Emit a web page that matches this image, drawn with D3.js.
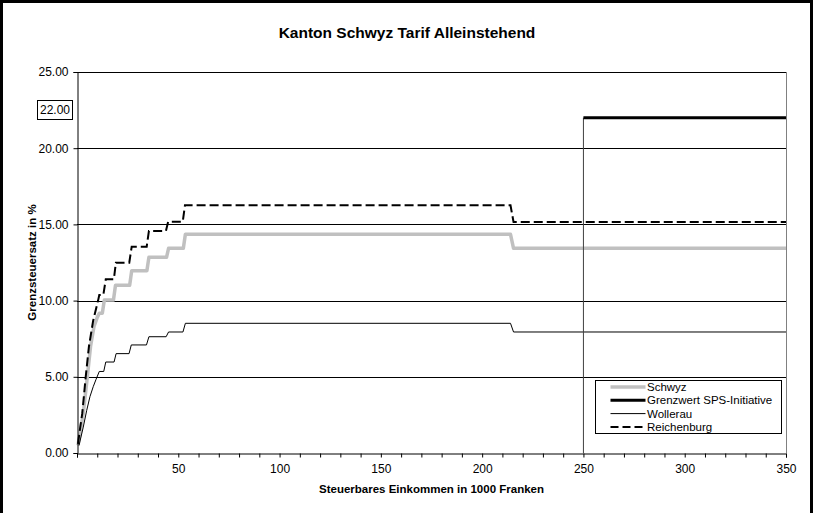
<!DOCTYPE html>
<html>
<head>
<meta charset="utf-8">
<script src="https://cdn.jsdelivr.net/npm/d3@7"></script>
<style>
  html, body { margin: 0; padding: 0; background: #fff; }
  svg { display: block; font-family: "Liberation Sans", Arial, sans-serif; }
</style>
</head>
<body>
<svg id="chart" width="813" height="513"></svg>
<script>
// Marginal tax rate (%) by taxable income (thousand CHF), single taxpayers
const schwyz = [
  [0.5, 0.5], [1.5, 1.3], [3.1, 2.6], [5.1, 5.0], [6.7, 7.0], [8.4, 8.3], [10, 8.9],
  [11, 9.17], [12.5, 9.17], [13.5, 10.04], [18, 10.04], [19, 11.0], [26, 11.0],
  [27, 11.96], [34.5, 11.96], [35.5, 12.84], [44.2, 12.84], [45.2, 13.43], [52.5, 13.43],
  [53.5, 14.35], [214, 14.35], [215.5, 13.43], [350, 13.43]
];
const wollerau = [
  [1.0, 0.5], [3.1, 1.7], [4.8, 2.8], [6.4, 3.7], [8.0, 4.35], [9.4, 4.83], [11, 5.35],
  [13.2, 5.35], [14.2, 5.97], [18.3, 5.97], [19.3, 6.52], [25.7, 6.52], [26.8, 7.09],
  [34.3, 7.09], [35.5, 7.63], [44, 7.63], [45.2, 7.94], [52.3, 7.94], [53.5, 8.51],
  [214, 8.51], [215.5, 7.94], [350, 7.94]
];
const reichenburg = [
  [0.5, 0.6], [1.5, 1.6], [2.6, 2.6], [4.3, 5.0], [5.9, 7.0], [8.0, 8.7], [10.4, 10.0],
  [11, 10.37], [13, 10.37], [14.2, 11.4], [18.2, 11.4], [19.2, 12.49], [25.8, 12.49],
  [27, 13.54], [34.4, 13.54], [35.5, 14.57], [43.9, 14.57], [45, 15.18], [52.2, 15.18],
  [53.3, 16.25], [214, 16.25], [215.5, 15.16], [350, 15.16]
];
const grenzwert = [[250, 22], [350, 22]];
const grenzwertStart = [[250, 0], [250, 22]];
const grenzwertLabel = 22;

const yTicks = [0, 5, 10, 15, 20, 25];
const xTicks = d3.range(0, 351, 10);
const xTickLabels = [50, 100, 150, 200, 250, 300, 350];

const title = "Kanton Schwyz Tarif Alleinstehend";
const xTitle = "Steuerbares Einkommen in 1000 Franken";
const yTitle = "Grenzsteuersatz in %";

const seriesNames = ["Schwyz", "Grenzwert SPS-Initiative", "Wollerau", "Reichenburg"];

// ---- layout ----
const svg = d3.select("#chart");
const W = 813, H = 513;
const plot = { left: 77, right: 786, top: 72, bottom: 453 };

svg.append("rect").attr("width", W).attr("height", H).attr("fill", "#fff");
// chart frame
svg.append("rect").attr("x", 1.5).attr("y", 1.5).attr("width", W - 3).attr("height", H + 20)
  .attr("fill", "none").attr("stroke", "#000").attr("stroke-width", 3);

const x = d3.scaleLinear().domain([0, 350]).range([plot.left, plot.right]);
const y = d3.scaleLinear().domain([0, 25]).range([plot.bottom, plot.top]);
const crisp = v => Math.round(v) + 0.5;

// plot area frame (right edge)
svg.append("line")
  .attr("x1", crisp(plot.right)).attr("x2", crisp(plot.right))
  .attr("y1", plot.top).attr("y2", plot.bottom)
  .attr("stroke", "#808080").attr("stroke-width", 1);

// horizontal gridlines
svg.append("g").selectAll("line").data(yTicks.filter(d => d > 0)).join("line")
  .attr("x1", plot.left).attr("x2", plot.right)
  .attr("y1", d => crisp(y(d))).attr("y2", d => crisp(y(d)))
  .attr("stroke", "#000").attr("stroke-width", 1);

// series
const line = d3.line().x(d => x(d[0])).y(d => y(d[1]));

svg.append("path").datum(schwyz).attr("d", line)
  .attr("fill", "none").attr("stroke", "#c0c0c0").attr("stroke-width", 3.5)
  .attr("stroke-linejoin", "round");
svg.append("path").datum(wollerau).attr("d", line)
  .attr("fill", "none").attr("stroke", "#000").attr("stroke-width", 1);
svg.append("path").datum(reichenburg).attr("d", line)
  .attr("fill", "none").attr("stroke", "#000").attr("stroke-width", 2)
  .attr("stroke-dasharray", "9,4");
svg.append("path").datum(grenzwertStart).attr("d", line)
  .attr("fill", "none").attr("stroke", "#404040").attr("stroke-width", 1);
svg.append("path").datum(grenzwert).attr("d", line)
  .attr("fill", "none").attr("stroke", "#000").attr("stroke-width", 3);

// axes
const yAxis = d3.axisLeft(y).tickValues(yTicks).tickFormat(d3.format(".2f"))
  .tickSize(4).tickPadding(5);
const gy = svg.append("g").attr("transform", `translate(${crisp(plot.left)},0)`).call(yAxis);

const xAxis = d3.axisBottom(x).tickValues(xTicks)
  .tickFormat(d => xTickLabels.includes(d) ? String(d) : "")
  .tickSize(4).tickPadding(7);
const gx = svg.append("g").attr("transform", `translate(0,${crisp(plot.bottom)})`).call(xAxis);

[gx, gy].forEach(g => {
  g.select(".domain").attr("stroke", "#000");
  g.selectAll(".tick line").attr("stroke", "#000");
  g.selectAll(".tick text").attr("fill", "#000")
    .style("font-family", '"Liberation Sans", Arial, sans-serif').style("font-size", "12px");
});

// boxed value label for the limit
const lblY = y(grenzwertLabel) - 8;
svg.append("rect").attr("x", 37.5).attr("y", Math.round(lblY - 10) + 0.5)
  .attr("width", 35).attr("height", 19)
  .attr("fill", "#fff").attr("stroke", "#000").attr("stroke-width", 1);
svg.append("text").attr("x", 55).attr("y", lblY).attr("dy", "0.35em")
  .attr("text-anchor", "middle").attr("font-size", 12).text(d3.format(".2f")(grenzwertLabel));

// titles
svg.append("text").attr("x", 407).attr("y", 33).attr("dy", "0.35em")
  .attr("text-anchor", "middle").attr("font-size", 15.5).attr("font-weight", "bold").text(title);
svg.append("text").attr("x", (plot.left + plot.right) / 2).attr("y", 489).attr("dy", "0.35em")
  .attr("text-anchor", "middle").attr("font-size", 11.5).attr("font-weight", "bold").text(xTitle);
svg.append("text").attr("transform", `translate(32,${(plot.top + plot.bottom) / 2}) rotate(-90)`)
  .attr("dy", "0.35em").attr("text-anchor", "middle")
  .attr("font-size", 11.5).attr("font-weight", "bold").text(yTitle);

// legend
const lg = svg.append("g").attr("transform", "translate(595.5,380.5)");
lg.append("rect").attr("width", 186).attr("height", 53)
  .attr("fill", "#fff").attr("stroke", "#000").attr("stroke-width", 1);
const legendStyles = [
  { stroke: "#c0c0c0", width: 3.5, dash: null },
  { stroke: "#000", width: 3, dash: null },
  { stroke: "#000", width: 1, dash: null },
  { stroke: "#000", width: 2, dash: "8,4" }
];
seriesNames.forEach((name, i) => {
  const ly = 6.5 + i * 13.3;
  const s = legendStyles[i];
  lg.append("line").attr("x1", 15).attr("x2", 50).attr("y1", ly).attr("y2", ly)
    .attr("stroke", s.stroke).attr("stroke-width", s.width)
    .attr("stroke-dasharray", s.dash);
  lg.append("text").attr("x", 51.5).attr("y", ly).attr("dy", "0.35em")
    .attr("font-size", 11.5).text(name);
});
</script>
</body>
</html>
